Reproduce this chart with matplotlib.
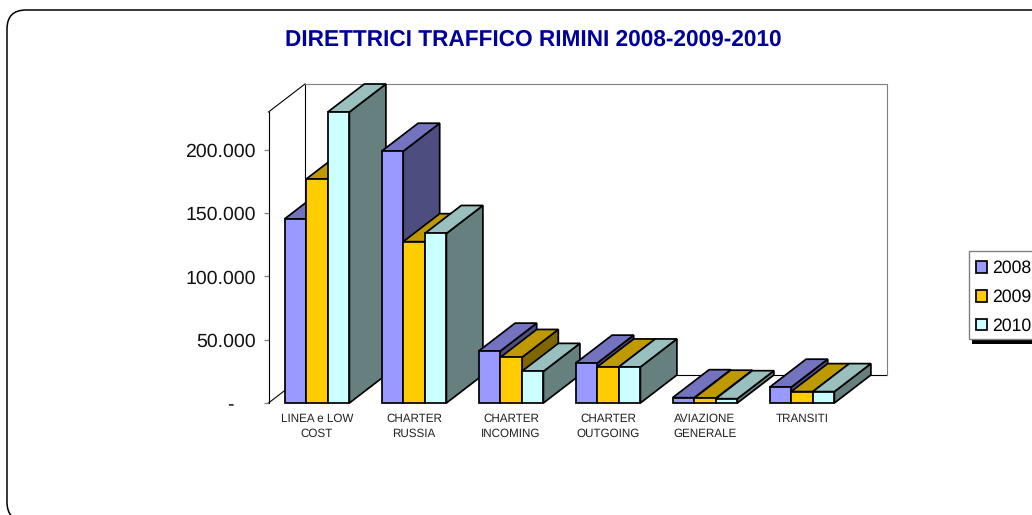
import matplotlib
matplotlib.use("Agg")
import matplotlib.pyplot as plt
from matplotlib.patches import Polygon, Rectangle, PathPatch, Patch
from matplotlib.path import Path
from matplotlib.transforms import Affine2D

plt.rcParams['font.family'] = ['Liberation Sans', 'DejaVu Sans']
plt.rcParams['text.hinting'] = 'no_hinting'

TITLE = "DIRETTRICI TRAFFICO RIMINI 2008-2009-2010"
categories = ["LINEA e LOW\nCOST", "CHARTER\nRUSSIA", "CHARTER\nINCOMING",
              "CHARTER\nOUTGOING", "AVIAZIONE\nGENERALE", "TRANSITI"]
years = ["2008", "2009", "2010"]
v2008 = [145500, 199000, 41000, 31500, 4200, 12500]
v2009 = [177000, 127500, 36000, 28500, 3800, 9000]
v2010 = [230000, 134000, 25000, 28500, 3400, 9000]
yticks = [0, 50000, 100000, 150000, 200000]
yticklabels = ["-\u00a0\u00a0\u00a0\u00a0", "50.000", "100.000", "150.000", "200.000"]

front = ["#9999FF", "#FFCC00", "#CCFFFF"]
top = ["#7373BF", "#BF9900", "#99BFBF"]
side = ["#4D4D80", "#806600", "#668080"]

W, H = 1032, 515
fig = plt.figure(figsize=(W / 100, H / 100), dpi=100, facecolor="white")
px = Affine2D().scale(1, -1).translate(0, H)   # figure pixels, y downwards

# rounded outer frame (runs off the right and bottom of the picture)
frame = Path([(1040, 10), (26, 10), (7, 10), (7, 29), (7, 502), (7, 521), (26, 521)],
             [Path.MOVETO, Path.LINETO, Path.CURVE3, Path.CURVE3,
              Path.LINETO, Path.CURVE3, Path.CURVE3])
fig.add_artist(PathPatch(frame, fc="none", ec="black", lw=1.1, transform=px))

L, B, AW, AH = 268.5, 403.0, 582.0, 291.0
ax = fig.add_axes([L / W, (H - B) / H, AW / W, AH / H])
XMIN, XMAX, YMIN, YMAX = -0.5, 5.5, 0, 230000
ax.set_xlim(XMIN, XMAX)
ax.set_ylim(YMIN, YMAX)
ax.patch.set_visible(False)
for s in ("top", "right", "bottom"):
    ax.spines[s].set_visible(False)
ax.spines["left"].set_linewidth(0.8)
ax.set_yticks(yticks, yticklabels, fontsize=14, color="#111111")
ax.tick_params(axis="y", length=3.5, width=0.9, pad=5.7, color="#808080")
ax.yaxis.get_major_ticks()[0].tick1line.set_color("black")
ax.set_xticks(range(len(categories)), categories, fontsize=8.4, color="#222222",
              linespacing=1.45)
ax.tick_params(axis="x", length=0, pad=7.5)

# 3-D depth, expressed in data units (36.5 px and 28 px on screen)
DX = 36.5 / (AW / (XMAX - XMIN))
DY = 28.0 / (AH / (YMAX - YMIN))

wall = dict(clip_on=False, lw=0.8, zorder=1, solid_joinstyle="miter")
ax.plot([XMIN, XMIN + DX], [YMIN, YMIN + DY], color="black", **wall)
ax.plot([XMIN, XMIN + DX], [YMAX, YMAX + DY], color="black", **wall)
ax.plot([XMIN + DX, XMIN + DX], [YMIN + DY, YMAX + DY], color="black", **wall)
ax.plot([XMIN + DX, XMAX + DX], [YMIN + DY, YMIN + DY], color="black", **wall)
ax.plot([XMIN + DX, XMAX + DX, XMAX + DX],
        [YMAX + DY, YMAX + DY, YMIN + DY], color="#808080", **wall)

BAR = 21.6 / 97.0
series = [v2008, v2009, v2010]
EDGE = 1.25
z = 3
for i in range(len(categories)):
    for j, vals in enumerate(series):
        x0 = i + (j - 1.5) * BAR
        x1 = x0 + BAR
        v = vals[i]
        kw = dict(ec="black", lw=EDGE, joinstyle="miter", clip_on=False, zorder=z)
        ax.add_patch(Polygon([(x1, 0), (x1, v), (x1 + DX, v + DY), (x1 + DX, DY)],
                             fc=side[j], **kw))
        ax.add_patch(Polygon([(x0, v), (x1, v), (x1 + DX, v + DY), (x0 + DX, v + DY)],
                             fc=top[j], **kw))
        ax.bar(x0, v, BAR, align="edge", color=front[j], edgecolor="black",
               linewidth=EDGE, zorder=z, clip_on=False)
        z += 1

fig.text(533 / W, 1 - 39.5 / H, TITLE, ha="center", va="center", fontsize=16.3,
         fontweight="bold", color="#000099")

# legend box, cut by the right edge, with its hard shadow
fig.add_artist(Rectangle((972, 254), 100, 90, fc="black", ec="none", transform=px, zorder=3))
fig.add_artist(Rectangle((969, 251), 100, 88, fc="white", ec="#808080", lw=1.0,
                         transform=px, zorder=4))
leg = fig.legend(handles=[Patch(fc=c, ec="black", lw=EDGE, label=y)
                          for c, y in zip(front, years)],
                 loc="upper left", bbox_to_anchor=(970 / W, 1 - 254 / H),
                 bbox_transform=fig.transFigure, borderaxespad=0,
                 fontsize=12.7, frameon=False, handlelength=0.6,
                 handleheight=0.62, handletextpad=0.33, labelspacing=0.69,
                 borderpad=0.34)
leg.set_zorder(5)

fig.savefig("out.png", dpi=100)
